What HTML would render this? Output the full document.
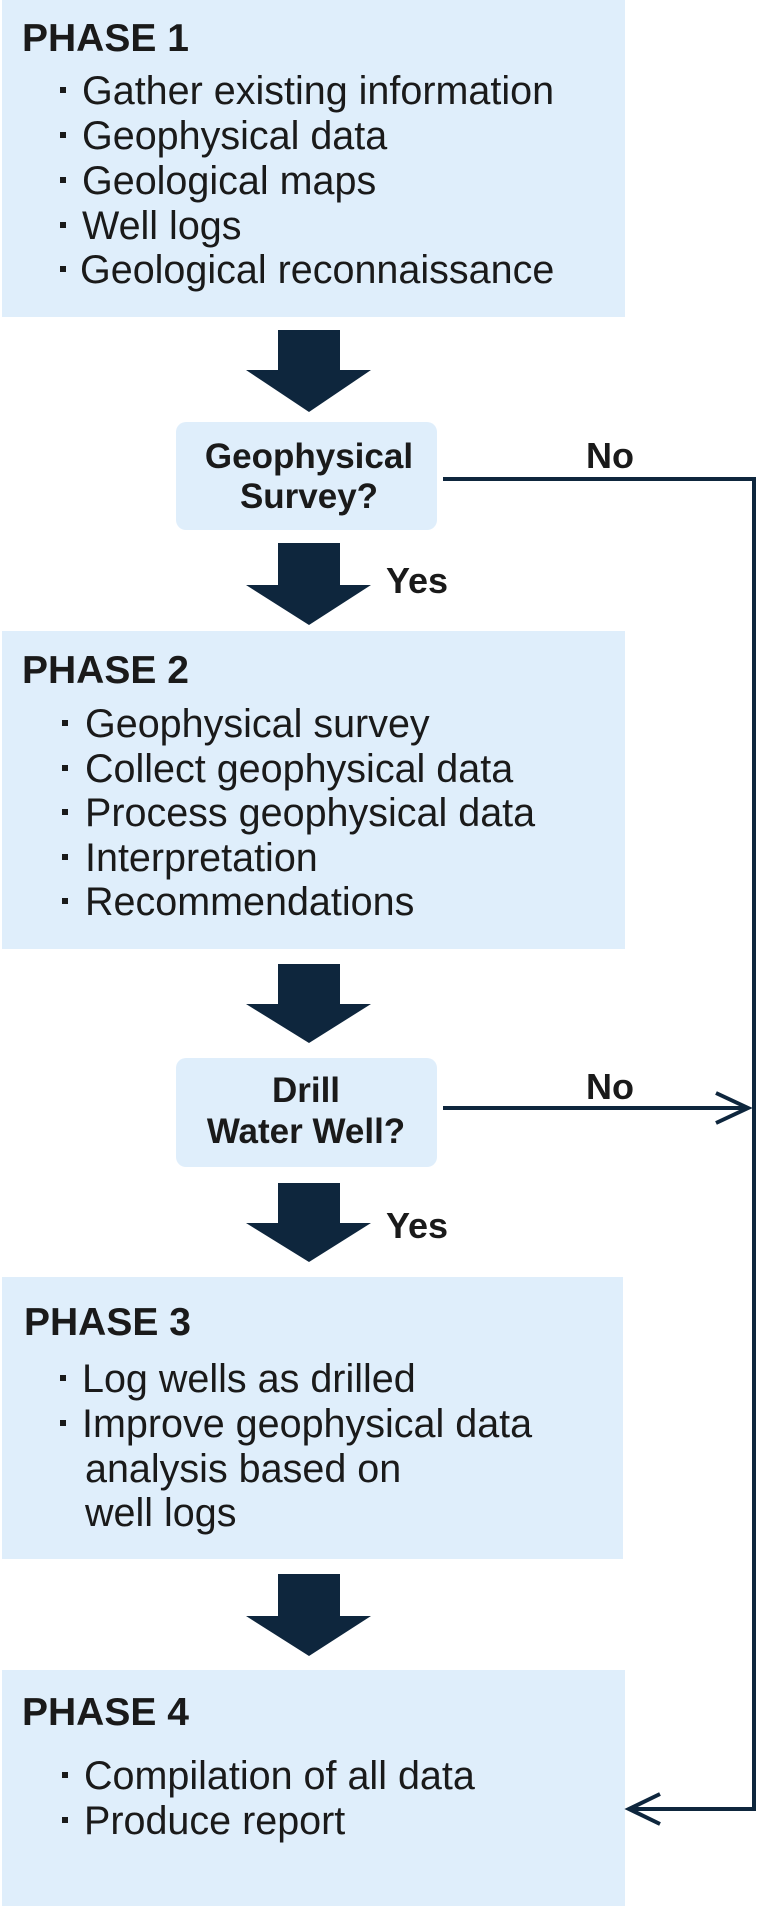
<!DOCTYPE html>
<html><head><meta charset="utf-8"><style>
html,body{margin:0;padding:0;background:#fff}
svg{display:block}
text{font-family:"Liberation Sans",Arial,sans-serif;fill:#1a1a1a}
.t{font-weight:bold;font-size:39px}
.i{font-size:39.5px}
.d{font-weight:bold;font-size:35px}
.n{font-weight:bold;font-size:36px}
</style></head><body>
<svg width="758" height="1906" viewBox="0 0 758 1906" xmlns="http://www.w3.org/2000/svg">
<g fill="#dfeefb">
<rect x="2" y="0" width="623" height="317"/>
<rect x="2" y="631" width="623" height="318"/>
<rect x="2" y="1277" width="621" height="282"/>
<rect x="2" y="1670" width="623" height="236"/>
<rect x="176" y="422" width="261" height="108" rx="10"/>
<rect x="176" y="1058" width="261" height="109" rx="10"/>
</g>
<g fill="#0e263d">
<polygon points="278,330 340,330 340,370 371,370 309,412 246,370 278,370"/>
<polygon points="278,543 340,543 340,585 371,585 309,625 246,585 278,585"/>
<polygon points="278,964 340,964 340,1004 371,1004 309,1043 246,1004 278,1004"/>
<polygon points="278,1183 340,1183 340,1223 371,1223 309,1262 246,1223 278,1223"/>
<polygon points="278,1574 340,1574 340,1616 371,1616 309,1656 246,1616 278,1616"/>
</g>
<g stroke="#0e263d" stroke-width="4" fill="none">
<polyline points="443,479 754,479 754,1809 629,1809"/>
<line x1="443" y1="1108" x2="748" y2="1108"/>
<polyline points="716,1093 748,1108 716,1123"/>
<polyline points="660,1794 629,1809 660,1824"/>
</g>
<g fill="#1a1a1a">
<rect x="60" y="87" width="6" height="6"/><rect x="60" y="132" width="6" height="6"/><rect x="60" y="177" width="6" height="6"/><rect x="60" y="222" width="6" height="6"/><rect x="60" y="266" width="6" height="6"/>
<rect x="62" y="720" width="6" height="6"/><rect x="62" y="765" width="6" height="6"/><rect x="62" y="809" width="6" height="6"/><rect x="62" y="854" width="6" height="6"/><rect x="62" y="898" width="6" height="6"/>
<rect x="60" y="1375" width="6" height="6"/><rect x="60" y="1420" width="6" height="6"/>
<rect x="62" y="1772" width="6" height="6"/><rect x="62" y="1817" width="6" height="6"/>
</g>
<text class="t" x="22" y="51">PHASE 1</text>
<g class="i">
<text x="82" y="104">Gather existing information</text>
<text x="82" y="149">Geophysical data</text>
<text x="82" y="194">Geological maps</text>
<text x="82" y="239">Well logs</text>
<text x="80" y="283">Geological reconnaissance</text>
</g>
<text class="d" x="309" y="468" text-anchor="middle">Geophysical</text>
<text class="d" x="309" y="508" text-anchor="middle">Survey?</text>
<text class="n" x="586" y="468">No</text>
<text class="n" x="386" y="593">Yes</text>
<text class="t" x="22" y="683">PHASE 2</text>
<g class="i">
<text x="85" y="737">Geophysical survey</text>
<text x="85" y="782">Collect geophysical data</text>
<text x="85" y="826">Process geophysical data</text>
<text x="85" y="871">Interpretation</text>
<text x="85" y="915">Recommendations</text>
</g>
<text class="d" x="306" y="1102" text-anchor="middle">Drill</text>
<text class="d" x="306" y="1143" text-anchor="middle">Water Well?</text>
<text class="n" x="586" y="1099">No</text>
<text class="n" x="386" y="1238">Yes</text>
<text class="t" x="24" y="1335">PHASE 3</text>
<g class="i">
<text x="82" y="1392">Log wells as drilled</text>
<text x="82" y="1437">Improve geophysical data</text>
<text x="85" y="1482">analysis based on</text>
<text x="85" y="1526">well logs</text>
</g>
<text class="t" x="22" y="1725">PHASE 4</text>
<g class="i">
<text x="84" y="1789">Compilation of all data</text>
<text x="84" y="1834">Produce report</text>
</g>
</svg>
</body></html>
